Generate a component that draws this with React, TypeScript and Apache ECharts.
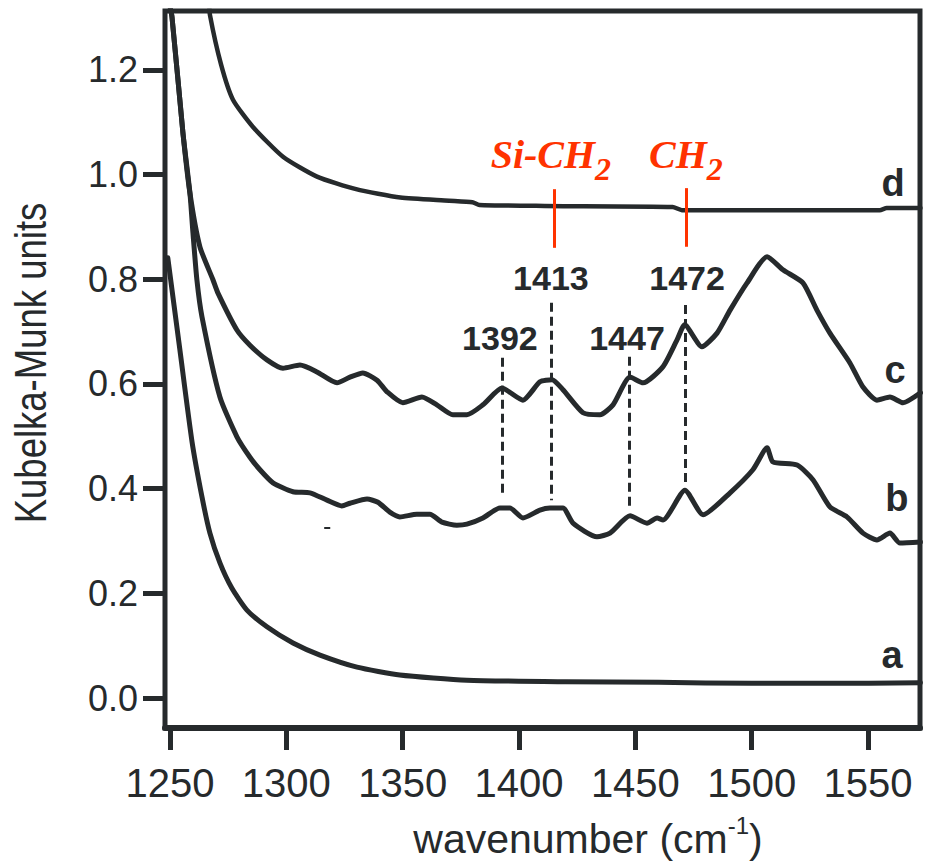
import React, { useEffect, useRef } from "react";
import * as echarts from "echarts";

const INK = "#262a2c";
const RED = "#ff3300";
const SANS = "'Liberation Sans', Arial, Helvetica, sans-serif";
const SERIF = "'Liberation Serif', 'Times New Roman', serif";

const xTicks = [1250, 1300, 1350, 1400, 1450, 1500, 1550];
const yTicks = [0, 0.2, 0.4, 0.6, 0.8, 1.0, 1.2];

// spectrum a
const curveA: [number, number][] = [
  [1249.1, 0.841], [1254.3, 0.665], [1259.5, 0.49], [1263.8, 0.384], [1267.2, 0.315],
  [1271.5, 0.258], [1276.6, 0.21], [1283.1, 0.168], [1291.7, 0.136], [1302.9, 0.105],
  [1314.5, 0.082], [1330.4, 0.059], [1348.8, 0.044], [1377.6, 0.034], [1420.0, 0.031],
  [1460.0, 0.030], [1500.0, 0.028], [1530.0, 0.028], [1572.5, 0.029],
];

// spectrum b
const curveB: [number, number][] = [
  [1249.6, 1.33], [1250.9, 1.301], [1255.6, 1.08], [1258.6, 0.965], [1259.9, 0.889],
  [1261.6, 0.799], [1263.8, 0.728], [1271.5, 0.575], [1278.8, 0.499], [1284.4, 0.46],
  [1288.7, 0.436], [1294.3, 0.411], [1302.9, 0.394], [1310.2, 0.392], [1317.5, 0.378],
  [1323.9, 0.367], [1327.4, 0.372], [1334.7, 0.38], [1339.4, 0.374], [1344.5, 0.355],
  [1348.8, 0.346], [1356.1, 0.351], [1361.7, 0.351], [1366.9, 0.336], [1373.3, 0.33],
  [1377.6, 0.332], [1384.5, 0.344], [1391.8, 0.363], [1396.1, 0.363], [1401.7, 0.344],
  [1409.0, 0.359], [1413.3, 0.363], [1418.9, 0.363], [1423.2, 0.334], [1433.5, 0.308],
  [1439.1, 0.315], [1447.7, 0.348], [1455.0, 0.334], [1459.3, 0.344], [1461.9, 0.34],
  [1471.3, 0.397], [1479.1, 0.35], [1490.7, 0.392], [1500.5, 0.436], [1506.6, 0.478],
  [1509.1, 0.451], [1519.5, 0.445], [1526.3, 0.417], [1533.6, 0.365], [1540.9, 0.346],
  [1547.8, 0.315], [1553.8, 0.302], [1559.4, 0.315], [1563.7, 0.296], [1572.5, 0.298],
];

// spectrum c
const curveC: [number, number][] = [
  [1249.6, 1.33], [1250.9, 1.301], [1255.6, 1.08], [1258.6, 0.965], [1262.9, 0.862],
  [1268.5, 0.799], [1270.6, 0.774], [1278.8, 0.703], [1284.4, 0.674], [1291.7, 0.646],
  [1298.6, 0.63], [1305.9, 0.636], [1313.2, 0.623], [1321.8, 0.602], [1327.4, 0.613],
  [1332.9, 0.621], [1339.0, 0.607], [1343.3, 0.585], [1350.1, 0.564], [1358.3, 0.575],
  [1364.7, 0.56], [1371.6, 0.541], [1377.6, 0.541], [1384.5, 0.56], [1392.7, 0.592],
  [1401.7, 0.569], [1409.0, 0.604], [1414.2, 0.608], [1418.9, 0.589], [1427.5, 0.545],
  [1434.8, 0.541], [1440.4, 0.56], [1447.7, 0.613], [1453.3, 0.602], [1461.9, 0.633],
  [1467.9, 0.684], [1471.2, 0.713], [1478.6, 0.671], [1485.1, 0.697], [1490.7, 0.741],
  [1498.0, 0.793], [1506.6, 0.843], [1513.4, 0.818], [1522.0, 0.793], [1528.0, 0.741],
  [1533.6, 0.697], [1542.2, 0.64], [1547.8, 0.594], [1553.8, 0.569], [1559.4, 0.575],
  [1565.0, 0.564], [1572.5, 0.583],
];

// spectrum d
const curveD: [number, number][] = [
  [1266.9, 1.33], [1267.2, 1.305], [1272.0, 1.21], [1277.1, 1.143], [1285.7, 1.091],
  [1298.6, 1.034], [1313.2, 0.996], [1330.0, 0.972], [1349.0, 0.956], [1370.0, 0.95],
  [1380.0, 0.947], [1383.0, 0.942], [1411.0, 0.94], [1466.0, 0.938], [1470.0, 0.932],
  [1555.0, 0.932], [1558.0, 0.936], [1572.5, 0.936],
];

const curveNames = ["a", "b", "c", "d"];
const curveNameX = [1560.3, 1562.4, 1561.6, 1560.7];
const curveNameY = [0.082, 0.382, 0.627, 0.984];

const peakNames = ["1392", "1413", "1447", "1472"];
const peakLabelX = [1391.8, 1413.7, 1446.4, 1472.2];
const peakLabelY = [0.688, 0.802, 0.688, 0.802];
const peakLineX = [1392.7, 1414.0, 1447.3, 1471.3];
const peakLineTop = [0.65, 0.755, 0.652, 0.751];
const peakLineBottom = [0.392, 0.378, 0.365, 0.411];

const groupNames = ["Si-CH", "CH"];
const groupLabelX = [1413.7, 1471.7];
const groupLabelY = [1.028, 1.028];
const groupLineX = [1415.2, 1471.7];
const groupLineTop = [0.972, 0.974];
const groupLineBottom = [0.86, 0.862];

const artifactX = [1316.3, 1318.9];
const artifactY = 0.325;

const X_MIN = 1247.9;
const X_MAX = 1572.3;
const Y_MIN = -0.0573;
const Y_MAX = 1.3124;

function spectrum(data: [number, number][], width: number) {
  return {
    type: "line",
    data,
    symbol: "none",
    showSymbol: false,
    smooth: 0.2,
    clip: true,
    silent: true,
    z: 3,
    lineStyle: { color: INK, width, cap: "round", join: "round" },
    emphasis: { disabled: true },
  };
}

function textLayer(items: { value: [number, number]; label: any }[], label: any) {
  return {
    type: "scatter",
    symbol: "circle",
    symbolSize: 2,
    silent: true,
    z: 5,
    itemStyle: { color: "rgba(0,0,0,0)", opacity: 1 },
    emphasis: { disabled: true },
    data: items,
    label: { show: true, position: "inside", opacity: 1, textBorderWidth: 0, ...label },
  };
}

export default function App() {
  const ref = useRef<HTMLDivElement>(null);

  useEffect(() => {
    if (!ref.current) return;
    const chart = echarts.init(ref.current, undefined, { renderer: "svg" });

    const markLines: any[] = [];
    peakLineX.forEach((x, i) => {
      markLines.push([
        { coord: [x, peakLineTop[i]], lineStyle: { color: INK, width: 3, type: [9, 5] } },
        { coord: [x, peakLineBottom[i]] },
      ]);
    });
    groupLineX.forEach((x, i) => {
      markLines.push([
        { coord: [x, groupLineTop[i]], lineStyle: { color: RED, width: 3, type: "solid" } },
        { coord: [x, groupLineBottom[i]] },
      ]);
    });
    markLines.push([
      { coord: [artifactX[0], artifactY], lineStyle: { color: INK, width: 2, type: "solid" } },
      { coord: [artifactX[1], artifactY] },
    ]);

    const option: any = {
      animation: false,
      backgroundColor: "#ffffff",
      grid: {
        left: 165,
        right: 16,
        top: 11,
        bottom: 140,
        containLabel: false,
        outerBoundsMode: "none",
        show: true,
        borderColor: INK,
        borderWidth: 5,
        backgroundColor: "transparent",
      },
      xAxis: {
        type: "value",
        min: X_MIN,
        max: X_MAX,
        splitLine: { show: false },
        axisLine: { show: true, onZero: false, lineStyle: { color: INK, width: 6 } },
        axisTick: {
          show: true,
          customValues: xTicks,
          length: 22,
          inside: false,
          lineStyle: { color: INK, width: 5 },
        },
        axisLabel: {
          show: true,
          customValues: xTicks,
          margin: 35,
          color: INK,
          fontSize: 40,
          fontFamily: SANS,
          formatter: (v: number) => String(Math.round(v)),
        },
      },
      yAxis: {
        type: "value",
        min: Y_MIN,
        max: Y_MAX,
        splitLine: { show: false },
        axisLine: { show: true, onZero: false, lineStyle: { color: INK, width: 4 } },
        axisTick: {
          show: true,
          customValues: yTicks,
          length: 22,
          inside: false,
          lineStyle: { color: INK, width: 5 },
        },
        axisLabel: {
          show: true,
          customValues: yTicks,
          margin: 27,
          color: INK,
          fontSize: 36,
          fontFamily: SANS,
          formatter: (v: number) => v.toFixed(1),
        },
      },
      graphic: [
        {
          type: "text",
          x: 31,
          y: 363,
          rotation: Math.PI / 2,
          scaleX: 0.83,
          silent: true,
          style: {
            text: "Kubelka-Munk units",
            fontFamily: SANS,
            fontSize: 44,
            fill: INK,
            align: "center",
            verticalAlign: "middle",
          },
        },
        {
          type: "text",
          x: 588,
          y: 836,
          silent: true,
          style: {
            text: "{m|wavenumber (cm}{s|-1}{m|)}",
            fill: INK,
            align: "center",
            verticalAlign: "middle",
            rich: {
              m: { fontFamily: SANS, fontSize: 41, fill: INK, lineHeight: 46, verticalAlign: "bottom" },
              s: { fontFamily: SANS, fontSize: 24, fill: INK, lineHeight: 40, verticalAlign: "top" },
            },
          },
        },
      ],
      series: [
        spectrum(curveA, 5),
        {
          ...spectrum(curveB, 5),
          markLine: {
            symbol: ["none", "none"],
            silent: true,
            label: { show: false },
            emphasis: { disabled: true },
            data: markLines,
          },
        },
        spectrum(curveC, 5),
        spectrum(curveD, 4.5),
        textLayer(
          curveNames.map((n, i) => ({ value: [curveNameX[i], curveNameY[i]] as [number, number], label: { formatter: n } })),
          { color: INK, fontFamily: SANS, fontWeight: "bold", fontSize: 38 }
        ),
        textLayer(
          peakNames.map((n, i) => ({ value: [peakLabelX[i], peakLabelY[i]] as [number, number], label: { formatter: n } })),
          { color: INK, fontFamily: SANS, fontWeight: "bold", fontSize: 34 }
        ),
        textLayer(
          groupNames.map((n, i) => ({
            value: [groupLabelX[i], groupLabelY[i]] as [number, number],
            label: { formatter: `{m|${n}}{s|2}` },
          })),
          {
            color: RED,
            rich: {
              m: { fontFamily: SERIF, fontStyle: "italic", fontWeight: "bold", fontSize: 40, color: RED, lineHeight: 40, verticalAlign: "top" },
              s: { fontFamily: SERIF, fontStyle: "italic", fontWeight: "bold", fontSize: 32, color: RED, lineHeight: 50, verticalAlign: "bottom" },
            },
          }
        ),
      ],
    };

    chart.setOption(option);
    return () => chart.dispose();
  }, []);

  return (
    <div
      ref={ref}
      style={{ position: "fixed", left: 0, top: 0, width: 936, height: 868, background: "#fff" }}
    />
  );
}
